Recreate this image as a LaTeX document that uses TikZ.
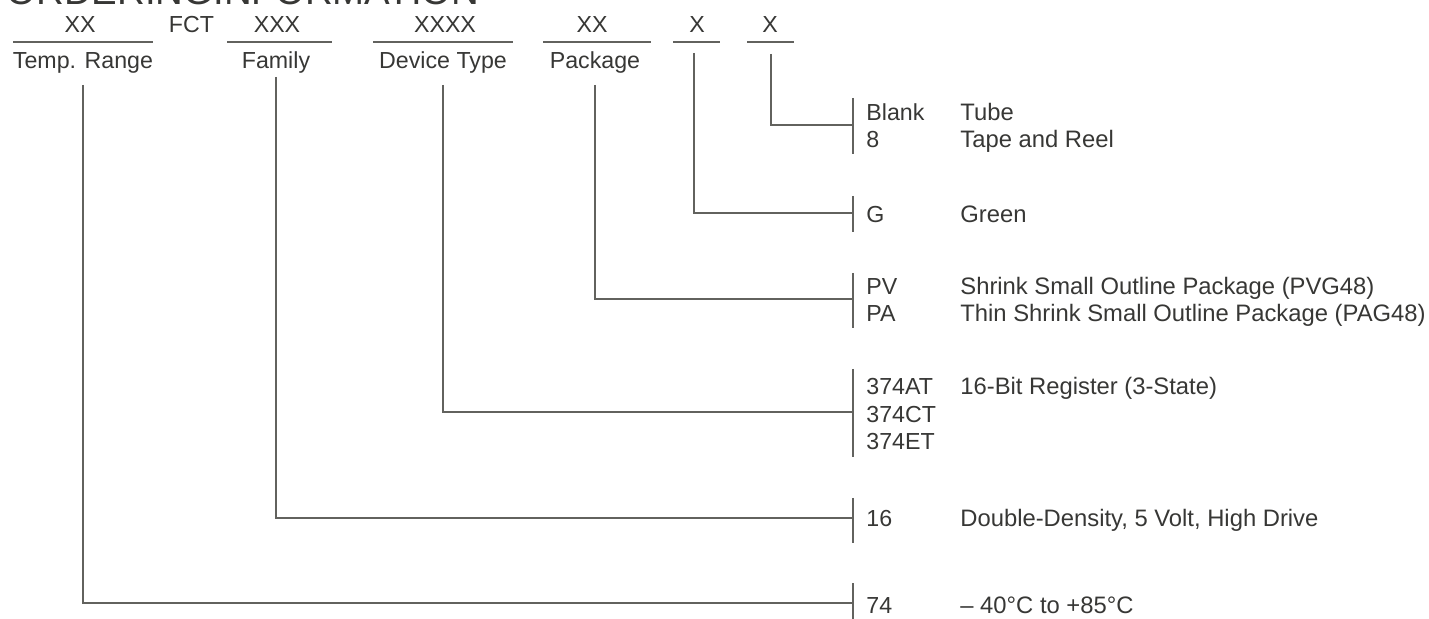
\documentclass[tikz,border=0pt]{standalone}
\usepackage{fontspec}
\setmainfont{Liberation Sans}
\definecolor{textc}{RGB}{55,55,53}
\definecolor{linec}{RGB}{98,98,94}
\begin{document}
\begin{tikzpicture}[x=0.5pt,y=-0.5pt,
  lab/.style={anchor=base,inner sep=0pt,text=textc,font=\fontsize{11.6}{13}\selectfont},
  code/.style={anchor=base west,inner sep=0pt,text=textc,font=\fontsize{11.6}{13}\selectfont},
  desc/.style={anchor=base west,inner sep=0pt,text=textc,font=\fontsize{11.9}{13}\selectfont},
  ln/.style={draw=linec,line width=1pt}]
\useasboundingbox (0,0) rectangle (1429,619);
\clip (0,0) rectangle (1429,619);
% title
\node[anchor=base west,inner sep=0pt,text=textc,font=\fontsize{19.2}{22}\selectfont] (title) at (6,5) {ORDERINGINFORMATION};
% top row
\node[lab] (xx1) at (80,33) {XX};
\node[lab] (fct) at (191.5,33) {FCT};
\node[lab] (xx2) at (277,33) {XXX};
\node[lab] (xx3) at (445,33) {XXXX};
\node[lab] (xx4) at (592,33) {XX};
\node[lab] (xx5) at (697,33) {X};
\node[lab] (xx6) at (770,33) {X};
\draw[ln] (13,42) -- (153,42);
\draw[ln] (227,42) -- (332,42);
\draw[ln] (373,42) -- (513,42);
\draw[ln] (543,42) -- (651,42);
\draw[ln] (673,42) -- (720,42);
\draw[ln] (747,42) -- (794,42);
\node[lab] (temp) at (83,69) {Temp. Range};
\node[lab] (fam) at (276,69) {Family};
\node[lab] (dev) at (443,69) {Device Type};
\node[lab] (pkg) at (595,69) {Package};
% bars
\coordinate (cTube) at (853,125);
\coordinate (cG) at (853,213);
\coordinate (cPkg) at (853,299);
\coordinate (cDev) at (853,412);
\coordinate (cFam) at (853,518);
\coordinate (cTemp) at (853,603);
\draw[ln] (853,98) -- (853,154);
\draw[ln] (853,196) -- (853,232);
\draw[ln] (853,273) -- (853,328);
\draw[ln] (853,369) -- (853,457);
\draw[ln] (853,498) -- (853,543);
\draw[ln] (853,583) -- (853,625);
% leaders
\draw[ln] (xx6.base) ++(1,21) |- (cTube);
\draw[ln] (xx5.base) ++(-3,20) |- (cG);
\draw[ln] (pkg.base) ++(0,16) |- (cPkg);
\draw[ln] (dev.base) ++(0,16) |- (cDev);
\draw[ln] (fam.base) ++(0,8) |- (cFam);
\draw[ln] (temp.base) ++(0,16) |- (cTemp);
% codes
\node[code] (k1) at (866,121) {Blank};
\node[code] (k2) at (866,148) {8};
\node[code] (k3) at (866,223) {G};
\node[code] (k4) at (866,295) {PV};
\node[code] (k5) at (866,322) {PA};
\node[code] (k6) at (866,395) {374AT};
\node[code] (k7) at (866,423) {374CT};
\node[code] (k8) at (866,450) {374ET};
\node[code] (k9) at (866,527) {16};
\node[code] (k10) at (866,613) {74};
% descriptions
\node[desc] (d1) at (960,121) {Tube};
\node[desc] (d2) at (960,148) {Tape and Reel};
\node[desc] (d3) at (960,223) {Green};
\node[desc] (d4) at (960,295) {Shrink Small Outline Package (PVG48)};
\node[desc] (d5) at (960,322) {Thin Shrink Small Outline Package (PAG48)};
\node[desc] (d6) at (960,395) {16-Bit Register (3-State)};
\node[desc] (d7) at (960,527) {Double-Density, 5 Volt, High Drive};
\node[desc] (d8) at (960,613) {– 40°C to +85°C};
\end{tikzpicture}
\end{document}
